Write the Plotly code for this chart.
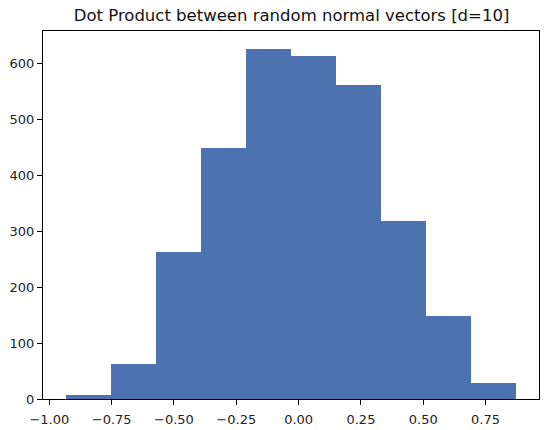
import plotly.graph_objects as go

TITLE = "Dot Product between random normal vectors [d=10]"
BAR_COLOR = "#4c72b0"

# histogram bin edges (10 bins) and counts
bin_edges = [-0.935, -0.754, -0.573, -0.392, -0.211, -0.031, 0.150, 0.331, 0.512, 0.693, 0.874]
counts = [7, 63, 262, 448, 626, 612, 560, 318, 148, 28]

x_ticks = [-1.0, -0.75, -0.5, -0.25, 0.0, 0.25, 0.5, 0.75]
x_tick_text = ["\u22121.00", "\u22120.75", "\u22120.50", "\u22120.25", "0.00", "0.25", "0.50", "0.75"]
y_ticks = [0, 100, 200, 300, 400, 500, 600]

centers = [(a + b) / 2 for a, b in zip(bin_edges[:-1], bin_edges[1:])]
widths = [b - a for a, b in zip(bin_edges[:-1], bin_edges[1:])]

fig = go.Figure(go.Bar(
    x=centers, y=counts, width=widths,
    marker=dict(color=BAR_COLOR, line=dict(width=0)),
    showlegend=False, hoverinfo="y",
))

span = bin_edges[-1] - bin_edges[0]
axis_style = dict(
    showline=True, linecolor="black", linewidth=1, mirror=True,
    ticks="outside", ticklen=5, tickcolor="black", showgrid=False, zeroline=False,
    automargin=False,
    tickfont=dict(family="DejaVu Sans", size=13, color="#222222"),
)
fig.update_xaxes(
    range=[bin_edges[0] - 0.05 * span, bin_edges[-1] + 0.05 * span],
    tickvals=x_ticks, ticktext=x_tick_text, ticklabelstandoff=3, **axis_style,
)
fig.update_yaxes(range=[0, max(counts) * 1.05], tickvals=y_ticks, **axis_style)

fig.update_layout(
    width=548, height=430,
    margin=dict(l=43, r=9, t=31, b=31),
    paper_bgcolor="white", plot_bgcolor="white",
    bargap=0,
    title=dict(text=TITLE, x=0.532, xanchor="center", y=0.952, yanchor="bottom",
               font=dict(family="DejaVu Sans", size=16.5, color="#111111")),
)

# drop the default page margin so the figure sits at the window's corner
fig.write_html("out.html", config={"displayModeBar": False},
               post_script="document.body.style.margin='0';")
